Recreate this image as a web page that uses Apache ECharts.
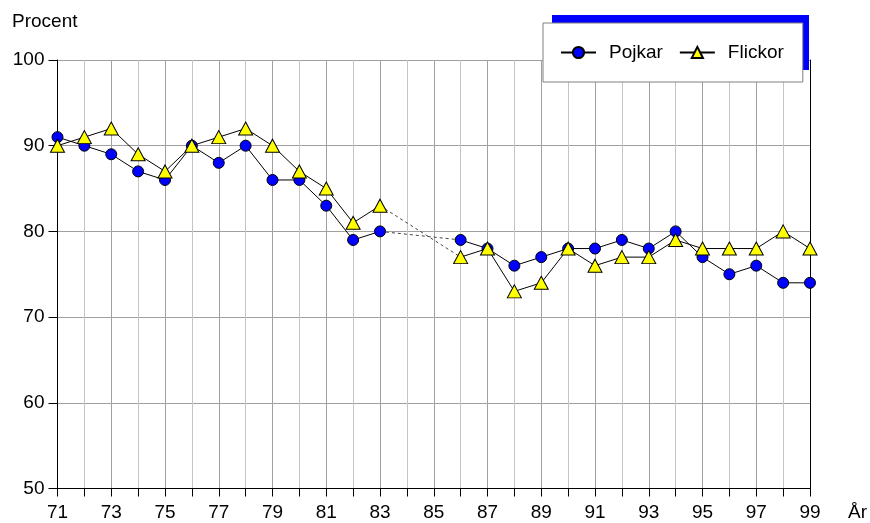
<!DOCTYPE html>
<html>
<head>
<meta charset="utf-8">
<script src="https://cdn.jsdelivr.net/npm/echarts@6/dist/echarts.min.js"></script>
<style>
html,body{margin:0;padding:0;background:#fff;}
#chart{width:870px;height:523px;}
</style>
</head>
<body>
<div id="chart"></div>
<script>
const years = ['71','72','73','74','75','76','77','78','79','80','81','82','83','84','85','86','87','88','89','90','91','92','93','94','95','96','97','98','99'];
const pojkar  = [91,90,89,87,86,90,88,90,86,86,83,79,80,null,null,79,78,76,77,78,78,79,78,80,77,75,76,74,74];
const flickor = [90,91,92,89,87,90,91,92,90,87,85,81,83,null,null,77,78,73,74,78,76,77,77,79,78,78,78,80,78];
const yTicks = [50,60,70,80,90,100];

const gapStart = 12, gapEnd = 15;
function gapSeries(arr){
  return arr.map((v,i)=> (i===gapStart||i===gapEnd) ? v : null);
}

const font = 'Liberation Sans, Arial, sans-serif';
const chart = echarts.init(document.getElementById('chart'), null, {renderer:'canvas'});
const lineStyle = {color:'#000', width:1};
chart.setOption({
  animation:false,
  textStyle:{fontFamily:font, color:'#000'},
  title:{text:'Procent', left:12, top:12, padding:0, textStyle:{fontFamily:font, fontSize:19, fontWeight:'normal', color:'#000'}},
  grid:{left:57.5, right:60, top:60, bottom:34.5, containLabel:false},
  graphic:[{type:'rect', z:3, silent:true, shape:{x:552, y:15, width:257, height:55}, style:{fill:'#0000ff'}}],
  legend:{
    left:543, top:23, z:5,
    orient:'horizontal',
    padding:[20,19,20,17],
    itemWidth:35, itemHeight:14, itemGap:16,
    backgroundColor:'#fff',
    borderColor:'#808080', borderWidth:1, borderRadius:0,
    textStyle:{fontFamily:font, fontSize:19, color:'#000', padding:[0,0,0,8]},
    data:[{name:'Pojkar'},{name:'Flickor'}]
  },
  xAxis:{
    type:'category', data:years, boundaryGap:false,
    name:'År', nameLocation:'end', nameGap:38,
    nameTextStyle:{fontFamily:font, fontSize:19, color:'#000', verticalAlign:'top', padding:[15,0,0,0]},
    axisLine:{lineStyle:{color:'#000', width:1}},
    axisTick:{show:true, interval:0, length:8, lineStyle:{color:'#000'}},
    axisLabel:{interval:1, fontFamily:font, fontSize:19, color:'#000', margin:15},
    splitLine:{show:true, interval:0, lineStyle:{color:['#a0a0a0','#c4c4c4'], width:1}}
  },
  yAxis:[{
    type:'value', min:yTicks[0], max:yTicks[yTicks.length-1], interval:10,
    axisLine:{show:true, lineStyle:{color:'#000'}},
    axisTick:{show:true, length:9, lineStyle:{color:'#000'}},
    axisLabel:{fontFamily:font, fontSize:19, color:'#000', margin:13},
    splitLine:{show:true, lineStyle:{color:'#a0a0a0', width:1}}
  },{
    type:'value', min:yTicks[0], max:yTicks[yTicks.length-1], interval:10, position:'right',
    axisLine:{show:true, lineStyle:{color:'#000'}},
    axisTick:{show:false}, axisLabel:{show:false}, splitLine:{show:false}
  }],
  series:[
    {name:'gapP', type:'line', data:gapSeries(pojkar), connectNulls:true, symbol:'none',
     lineStyle:{color:'#444', width:1, type:[3,3]}, z:1, silent:true},
    {name:'gapF', type:'line', data:gapSeries(flickor), connectNulls:true, symbol:'none',
     lineStyle:{color:'#444', width:1, type:[3,3]}, z:1, silent:true},
    {name:'Pojkar', type:'line', data:pojkar, connectNulls:false,
     symbol:'circle', symbolSize:11,
     itemStyle:{color:'#0000ff', borderColor:'#000', borderWidth:1},
     lineStyle:lineStyle, z:2},
    {name:'Flickor', type:'line', data:flickor, connectNulls:false,
     symbol:'triangle', symbolSize:[14,13],
     itemStyle:{color:'#ffff00', borderColor:'#000', borderWidth:1},
     lineStyle:lineStyle, z:3}
  ]
});
</script>
</body>
</html>
